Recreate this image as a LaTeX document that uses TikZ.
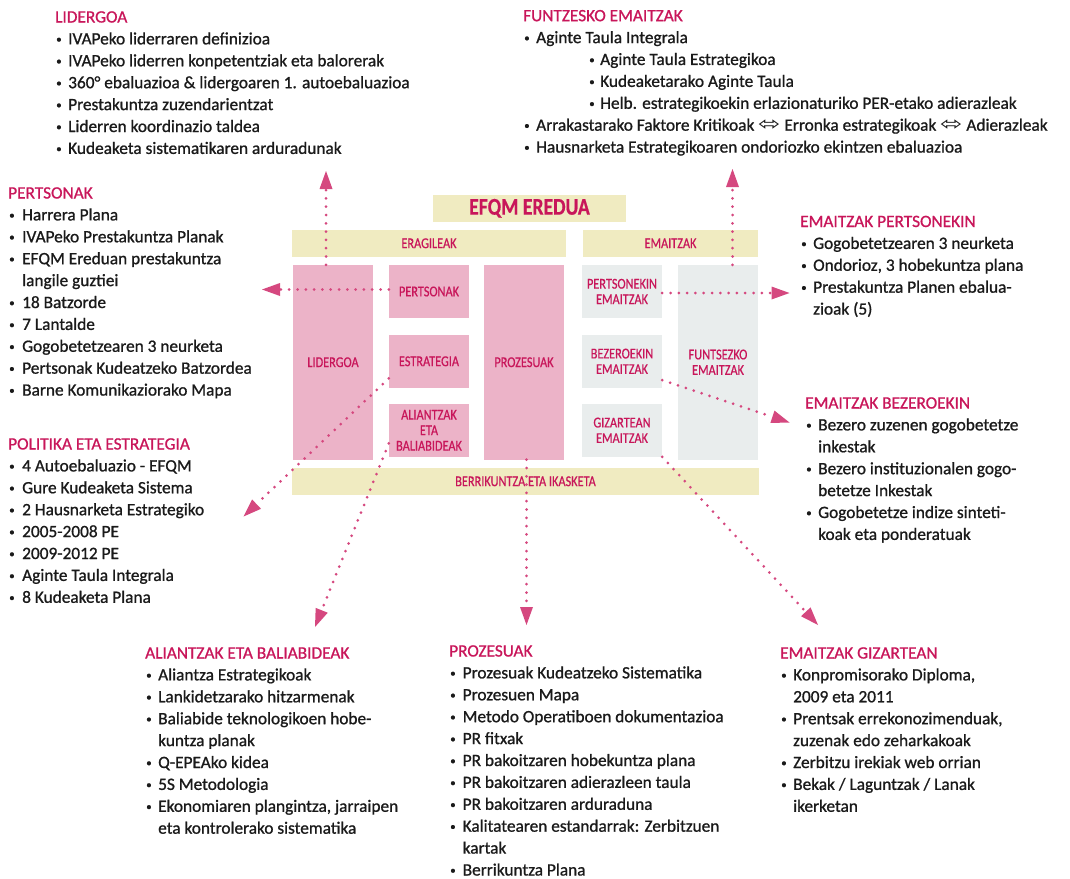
\documentclass[tikz,border=0pt]{standalone}
\usepackage{fontspec}
\usepackage{graphicx}
\setmainfont{Carlito}[RawFeature={embolden=1.0}]
\newfontfamily\lblfont{Carlito}[FakeStretch=0.82, RawFeature={embolden=0.6}]
\newfontfamily\symfont{DejaVu Sans}
\usetikzlibrary{arrows.meta}
\definecolor{pk}{HTML}{C8165A}
\definecolor{dotc}{HTML}{D5487F}
\definecolor{pkfill}{HTML}{ECB3C8}
\definecolor{yel}{HTML}{F0EBC1}
\definecolor{grfill}{HTML}{E9EDED}
\definecolor{tx}{HTML}{1A1A1A}
\newlength\bw
\setlength\bw{13pt}
\newcommand\hdr[1]{{\color{pk}#1}}
\newcommand\smb{\raisebox{1.6pt}{\fontsize{11}{11}\selectfont •}}
\newcommand\bli[1]{\makebox[\bw][l]{\hspace{1pt}\smb}#1}
\newcommand\blc[1]{\hspace*{\bw}#1}
\newcommand\bls[1]{\hspace*{65pt}\makebox[12pt][l]{\hspace{1pt}\smb}#1}
\newcommand\lra{\scalebox{1.4}[1]{\symfont\fontsize{19}{19}\selectfont ⬄}}
\tikzset{
 pbox/.style={fill=pkfill, inner sep=0pt, minimum width=80pt, text=pk, font=\lblfont\fontsize{15}{15.5}\selectfont, align=center},
 gbox/.style={pbox, fill=grfill},
 bar/.style={fill=yel, inner sep=0pt, minimum height=26.7pt, text=pk, font=\lblfont\fontsize{15}{15.5}\selectfont},
 txtblk/.style={anchor=base west, inner sep=0pt, text=tx, font=\fontsize{17.3}{21.9}\selectfont},
 conn/.style={draw=dotc, line width=3pt, line cap=round, dash pattern=on 0pt off 8.3pt, -{Triangle[length=18pt,width=13pt,line width=0pt]}},
}
\begin{document}
\begin{tikzpicture}[x=1pt,y=-1pt]
\useasboundingbox (0,0) rectangle (1070,878);
% model
\node[bar, minimum width=193pt, font=\lblfont\bfseries\fontsize{24}{26}\selectfont] (title) at (529.5,208.3) {EFQM EREDUA};
\node[bar, minimum width=274pt] (barE) at (429,243.3) {ERAGILEAK};
\node[bar, minimum width=175pt] (barM) at (670.5,243.3) {EMAITZAK};
\node[bar, minimum width=467pt] (barB) at (525.5,481.3) {BERRIKUNTZA ETA IKASKETA};
\node[pbox, minimum height=194.5pt] (lid) at (333,362.25) {LIDERGOA};
\node[pbox, minimum height=53pt] (pers) at (429,291.5) {PERTSONAK};
\node[pbox, minimum height=52.7pt] (estr) at (429,361.3) {ESTRATEGIA};
\node[pbox, minimum height=52.7pt] (alia) at (429,430.3) {ALIANTZAK\\ETA\\BALIABIDEAK};
\node[pbox, minimum height=194.5pt] (proz) at (524,362.25) {PROZESUAK};
\node[gbox, minimum height=53pt] (pem) at (622,291.5) {PERTSONEKIN\\EMAITZAK};
\node[gbox, minimum height=52.7pt] (bez) at (622,361.3) {BEZEROEKIN\\EMAITZAK};
\node[gbox, minimum height=52.7pt] (giz) at (622,430.3) {GIZARTEAN\\EMAITZAK};
\node[gbox, minimum height=194.5pt] (funts) at (718,362.25) {FUNTSEZKO\\EMAITZAK};
% arrow tips
\coordinate (tLid) at (326,171);
\coordinate (tPers) at (262,289.5);
\coordinate (tFun) at (732.5,169);
\coordinate (tPem) at (789.5,293);
\coordinate (tBez) at (789.5,422.5);
\coordinate (tEstr) at (243.5,516.5);
\coordinate (tAli) at (315,627);
\coordinate (tProz) at (526.5,625);
\coordinate (tGiz) at (818,625);
% connectors
\draw[conn] (tLid |- lid.north) -- (tLid);
\draw[conn] (pers.west |- tPers) -- (tPers);
\draw[conn] (tFun |- funts.north) -- (tFun);
\draw[conn] (pem.east |- tPem) -- (tPem);
\draw[conn] (bez.-25) -- (tBez);
\draw[conn] (estr.203.5) -- (tEstr);
\draw[conn] (alia.198) -- (tAli);
\draw[conn] (tProz |- proz.south) -- (tProz);
\draw[conn] (giz.south east) -- (tGiz);
% text blocks
\node[txtblk] (bLid) at (55,22.5) {\setlength\bw{13pt}\begin{tabular}[t]{@{}l@{}}
\hdr{LIDERGOA}\\
\bli{IVAPeko liderraren definizioa}\\
\bli{IVAPeko liderren konpetentziak eta balorerak}\\
\bli{360° ebaluazioa \& lidergoaren 1. autoebaluazioa}\\
\bli{Prestakuntza zuzendarientzat}\\
\bli{Liderren koordinazio taldea}\\
\bli{Kudeaketa sistematikaren arduradunak}
\end{tabular}};
\node[txtblk] (bFun) at (523,21.2) {\setlength\bw{13pt}\begin{tabular}[t]{@{}l@{}}
\hdr{FUNTZESKO EMAITZAK}\\
\bli{Aginte Taula Integrala}\\
\bls{Aginte Taula Estrategikoa}\\
\bls{Kudeaketarako Aginte Taula}\\
\bls{Helb. estrategikoekin erlazionaturiko PER-etako adierazleak}\\
\bli{Arrakastarako Faktore Kritikoak \lra\ Erronka estrategikoak \lra\ Adierazleak}\\
\bli{Hausnarketa Estrategikoaren ondoriozko ekintzen ebaluazioa}
\end{tabular}};
\node[txtblk] (bPers) at (8,198.5) {\setlength\bw{14pt}\begin{tabular}[t]{@{}l@{}}
\hdr{PERTSONAK}\\
\bli{Harrera Plana}\\
\bli{IVAPeko Prestakuntza Planak}\\
\bli{EFQM Ereduan prestakuntza}\\
\blc{langile guztiei}\\
\bli{18 Batzorde}\\
\bli{7 Lantalde}\\
\bli{Gogobetetzearen 3 neurketa}\\
\bli{Pertsonak Kudeatzeko Batzordea}\\
\bli{Barne Komunikaziorako Mapa}
\end{tabular}};
\node[txtblk] (bPol) at (8,449.5) {\setlength\bw{14pt}\begin{tabular}[t]{@{}l@{}}
\hdr{POLITIKA ETA ESTRATEGIA}\\
\bli{4 Autoebaluazio - EFQM}\\
\bli{Gure Kudeaketa Sistema}\\
\bli{2 Hausnarketa Estrategiko}\\
\bli{2005-2008 PE}\\
\bli{2009-2012 PE}\\
\bli{Aginte Taula Integrala}\\
\bli{8 Kudeaketa Plana}
\end{tabular}};
\node[txtblk] (bPem) at (800,227) {\setlength\bw{13pt}\begin{tabular}[t]{@{}l@{}}
\hdr{EMAITZAK PERTSONEKIN}\\
\bli{Gogobetetzearen 3 neurketa}\\
\bli{Ondorioz, 3 hobekuntza plana}\\
\bli{Prestakuntza Planen ebalua-}\\
\blc{zioak (5)}
\end{tabular}};
\node[txtblk] (bBez) at (805,408.5) {\setlength\bw{13pt}\begin{tabular}[t]{@{}l@{}}
\hdr{EMAITZAK BEZEROEKIN}\\
\bli{Bezero zuzenen gogobetetze}\\
\blc{inkestak}\\
\bli{Bezero instituzionalen gogo-}\\
\blc{betetze Inkestak}\\
\bli{Gogobetetze indize sinteti-}\\
\blc{koak eta ponderatuak}
\end{tabular}};
\node[txtblk] (bAli) at (145,658.5) {\setlength\bw{13pt}\begin{tabular}[t]{@{}l@{}}
\hdr{ALIANTZAK ETA BALIABIDEAK}\\
\bli{Aliantza Estrategikoak}\\
\bli{Lankidetzarako hitzarmenak}\\
\bli{Baliabide teknologikoen hobe-}\\
\blc{kuntza planak}\\
\bli{Q-EPEAko kidea}\\
\bli{5S Metodologia}\\
\bli{Ekonomiaren plangintza, jarraipen}\\
\blc{eta kontrolerako sistematika}
\end{tabular}};
\node[txtblk] (bProz) at (449,656.5) {\setlength\bw{13.5pt}\begin{tabular}[t]{@{}l@{}}
\hdr{PROZESUAK}\\
\bli{Prozesuak Kudeatzeko Sistematika}\\
\bli{Prozesuen Mapa}\\
\bli{Metodo Operatiboen dokumentazioa}\\
\bli{PR fitxak}\\
\bli{PR bakoitzaren hobekuntza plana}\\
\bli{PR bakoitzaren adierazleen taula}\\
\bli{PR bakoitzaren arduraduna}\\
\bli{Kalitatearen estandarrak: Zerbitzuen}\\
\blc{kartak}\\
\bli{Berrikuntza Plana}
\end{tabular}};
\node[txtblk] (bGiz) at (780,658.5) {\setlength\bw{13pt}\begin{tabular}[t]{@{}l@{}}
\hdr{EMAITZAK GIZARTEAN}\\
\bli{Konpromisorako Diploma,}\\
\blc{2009 eta 2011}\\
\bli{Prentsak errekonozimenduak,}\\
\blc{zuzenak edo zeharkakoak}\\
\bli{Zerbitzu irekiak web orrian}\\
\bli{Bekak / Laguntzak / Lanak}\\
\blc{ikerketan}
\end{tabular}};
\end{tikzpicture}
\end{document}
